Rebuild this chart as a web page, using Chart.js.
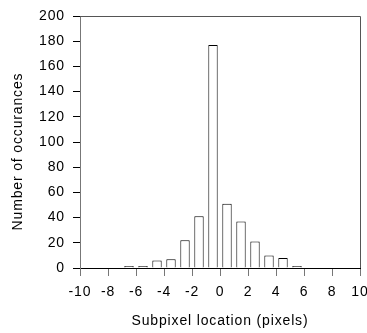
<!DOCTYPE html>
<html>
<head>
<meta charset="utf-8">
<script src="https://cdn.jsdelivr.net/npm/chart.js@4"></script>
<style>
  html, body { margin: 0; padding: 0; background: #fff; }
  #wrap { width: 367px; height: 333px; }
</style>
</head>
<body>
<div id="wrap"><canvas id="histChart"></canvas></div>
<script>
// bin centres (pixels) and counts
const binCentres = [-6.5, -5.5, -4.5, -3.5, -2.5, -1.5, -0.5, 0.5, 1.5, 2.5, 3.5, 4.5, 5.5];
const counts = [1, 1, 6, 7, 22, 41, 177, 51, 37, 21, 10, 8, 1];
const xTicks = [-10, -8, -6, -4, -2, 0, 2, 4, 6, 8, 10];
const yTicks = [0, 20, 40, 60, 80, 100, 120, 140, 160, 180, 200];

const fontFamily = '"Liberation Sans", Arial, sans-serif';

// original text is a bit wider than plain Arial
const spacingPlugin = {
    id: 'spacingPlugin',
    beforeDraw: (chart) => {
        chart.ctx.letterSpacing = '0.85px';
    }
};

// top + right edges of the plot box
const boxPlugin = {
    id: 'boxPlugin',
    afterDraw: (chart) => {
        const a = chart.chartArea;
        const ctx = chart.ctx;
        ctx.save();
        ctx.strokeStyle = '#555';
        ctx.lineWidth = 1;
        ctx.beginPath();
        ctx.moveTo(a.left, a.top + 0.5);
        ctx.lineTo(a.right + 0.5, a.top + 0.5);
        ctx.lineTo(a.right + 0.5, a.bottom);
        ctx.stroke();
        ctx.restore();
    }
};

new Chart(document.getElementById('histChart'), {
    type: 'bar',
    data: {
        datasets: [{
            label: 'Number of occurances',
            data: binCentres.map((x, i) => ({ x: x, y: counts[i] })),
            backgroundColor: '#ffffff',
            borderColor: '#000000',
            borderWidth: 1,
            minBarLength: 2,
            barPercentage: 0.67,
            categoryPercentage: 1
        }]
    },
    options: {
        responsive: true,
        maintainAspectRatio: false,
        animation: false,
        layout: {
            padding: { left: 0, right: 7, top: 16, bottom: 0 }
        },
        plugins: {
            legend: { display: false },
            tooltip: { enabled: false }
        },
        scales: {
            x: {
                type: 'linear',
                offset: false,
                min: -10,
                max: 10,
                afterBuildTicks: (scale) => {
                    scale.ticks = xTicks.map(v => ({ value: v }));
                },
                afterFit: (scale) => {
                    scale.height = 65;
                    // let the "10" label run past the edge like the original
                    scale.paddingLeft = 0;
                    scale.paddingRight = 0;
                },
                border: { color: '#000', width: 1 },
                grid: {
                    offset: false,
                    drawOnChartArea: false,
                    drawTicks: true,
                    tickLength: 8,
                    tickColor: '#777'
                },
                ticks: {
                    color: '#000',
                    padding: 8,
                    maxRotation: 0,
                    autoSkip: false,
                    font: { family: fontFamily, size: 14 }
                },
                title: {
                    display: true,
                    text: 'Subpixel location (pixels)',
                    color: '#000',
                    font: { family: fontFamily, size: 14 },
                    padding: { top: 8, bottom: 3 }
                }
            },
            y: {
                min: 0,
                max: 200,
                afterBuildTicks: (scale) => {
                    scale.ticks = yTicks.map(v => ({ value: v }));
                },
                afterFit: (scale) => {
                    scale.width = 80;
                    scale.paddingTop = 0;
                    scale.paddingBottom = 0;
                },
                border: { color: '#777', width: 1 },
                grid: {
                    drawOnChartArea: false,
                    drawTicks: true,
                    tickLength: 7,
                    tickColor: '#000'
                },
                ticks: {
                    color: '#000',
                    padding: 8,
                    autoSkip: false,
                    font: { family: fontFamily, size: 14 }
                },
                title: {
                    display: true,
                    text: 'Number of occurances    ',
                    color: '#000',
                    font: { family: fontFamily, size: 14 },
                    padding: { top: 10, bottom: 0 }
                }
            }
        }
    },
    plugins: [spacingPlugin, boxPlugin]
});
</script>
</body>
</html>
